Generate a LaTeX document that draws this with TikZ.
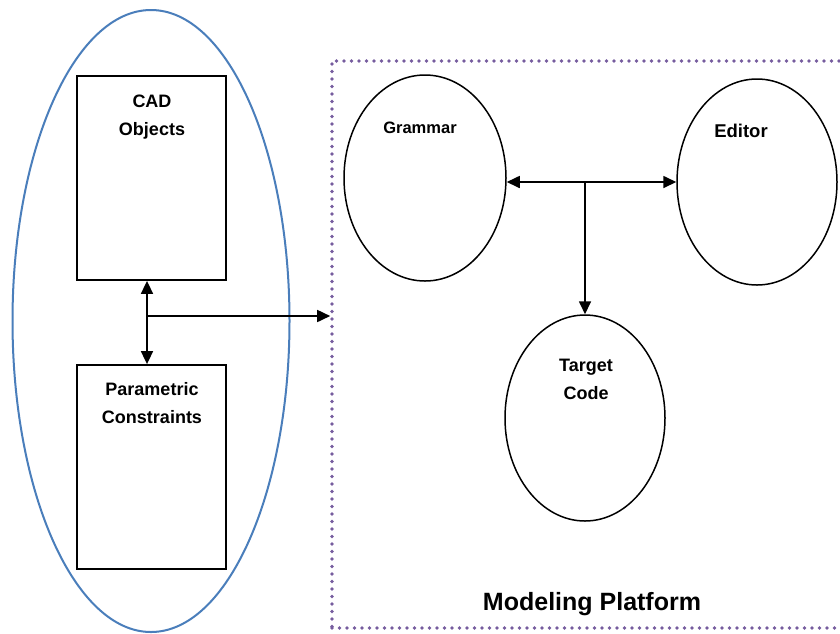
\documentclass[tikz,border=0pt]{standalone}
\usepackage{fontspec}
\setmainfont{Liberation Sans}
\usetikzlibrary{arrows.meta,shapes.geometric}
\definecolor{ellblue}{RGB}{74,126,187}
\definecolor{dotpurple}{RGB}{118,92,158}
\tikzset{
  box/.style={draw=black,line width=1.8pt,rectangle,minimum width=149pt,minimum height=204pt,inner sep=0pt},
  oval/.style={draw=black,line width=1.5pt,ellipse,inner sep=0pt},
  lbl/.style={font=\bfseries\fontsize{18}{28}\selectfont,align=center,inner sep=0pt,anchor=base},
  conn/.style={line width=1.7pt},
  tip/.style={-{Triangle[length=13pt,width=12pt]}},
  dtip/.style={{Triangle[length=13pt,width=12pt]}-{Triangle[length=13pt,width=12pt]}}
}
\begin{document}
\begin{tikzpicture}[x=1pt,y=-1pt]
\useasboundingbox[fill=white] (0,0) rectangle (840,633);
% dotted platform
\node[draw=dotpurple,line width=3.6pt,dash pattern=on 0pt off 7.5pt,line cap=round,
      rectangle,minimum width=510pt,minimum height=567pt,inner sep=0pt] (mp) at (587,344.5) {};
% blue ellipse
\node[draw=ellblue,line width=2pt,ellipse,minimum width=277pt,minimum height=622pt,inner sep=0pt] (grp) at (151,321) {};
% boxes
\node[box] (cad) at (151.5,178) {};
\node[box] (para) at (151.5,467) {};
\node[lbl] (cadt) at (152,135) {CAD\\Objects};
\node[lbl] (parat) at (152,423) {Parametric\\Constraints};
% ovals
\node[oval,minimum width=162pt,minimum height=206pt] (g) at (425,178) {};
\node[oval,minimum width=160pt,minimum height=206pt] (e) at (757,182) {};
\node[oval,minimum width=160pt,minimum height=206pt] (t) at (585,418) {};
\node[lbl,font=\bfseries\fontsize{16.5}{24}\selectfont] (gt) at (420,133) {Grammar};
\node[lbl,font=\bfseries\fontsize{18.5}{24}\selectfont] (et) at (741,137) {Editor};
\node[lbl] (tt) at (586,399) {Target\\Code};
\node[lbl,font=\bfseries\fontsize{25}{30}\selectfont] (mpt) at (592,610) {Modeling Platform};
% connectors left
\coordinate (j) at (147,316);
\draw[conn,dtip] ([xshift=-4.5pt]cad.south) -- ([xshift=-4.5pt]para.north);
\draw[conn,tip] (j) -- (mp.west |- j);
% connectors right
\coordinate (k) at (585,182);
\draw[conn,dtip] (g.east |- k) -- (e.west |- k);
\draw[conn,tip] (k) -- (t.north);
\end{tikzpicture}
\end{document}
